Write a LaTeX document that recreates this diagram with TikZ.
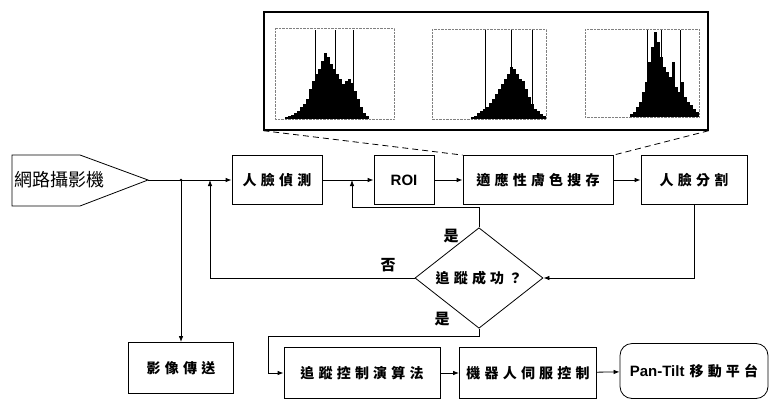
\documentclass[tikz,border=0pt]{standalone}
\usepackage{fontspec}
\usepackage{tikz}
\usetikzlibrary{arrows.meta,shapes.geometric}
\setsansfont{Liberation Sans}
\newfontfamily\cjk{Noto Sans CJK TC}
\newfontfamily\cjkwide[LetterSpace=30]{Noto Sans CJK TC}

\begin{document}
\begin{tikzpicture}[
  x=1pt, y=-1pt,
  box/.style={rectangle, draw, line width=0.8pt, minimum height=49pt, inner sep=0pt, font=\cjkwide\bfseries\fontsize{14}{16}\selectfont},
  decision/.style={diamond, draw, line width=0.8pt, minimum width=128pt, minimum height=70pt, inner sep=0pt, font=\cjkwide\bfseries\fontsize{14}{16}\selectfont},
  arrow/.style={-{Latex[length=6pt,width=4.5pt]}, line width=0.8pt},
  tag/.style={font=\cjk\bfseries\fontsize{15}{17}\selectfont, inner sep=0pt},
  guide/.style={dash pattern=on 6pt off 4pt, line width=0.8pt},
  bar/.style={fill=black}
]
\useasboundingbox (0,0) rectangle (771,399);

% Camera
\node[font=\cjk\fontsize{18}{20}\selectfont, anchor=west, inner sep=0pt] (cam) at (14,180) {網路攝影機};
\draw[line width=0.8pt] (12,155) -- (80,155) -- (148,180) coordinate (camtip) -- (80,206) -- (12,206) -- cycle;

% Top row
\node[box, minimum width=90pt] (detect) at (277,180) {人臉偵測};
\node[box, minimum width=60pt, font=\sffamily\bfseries\fontsize{15}{17}\selectfont] (roi) at (404,180) {ROI};
\node[box, minimum width=150pt] (skin) at (538,180) {適應性膚色搜存};
\node[box, minimum width=106pt] (segment) at (694,180) {人臉分割};

% Decision
\node[decision] (track) at (479,278) {追蹤成功？};

% Bottom row
\node[box, minimum width=105pt, minimum height=51pt] (send) at (181,368) {影像傳送};
\node[box, minimum width=156pt, minimum height=51pt] (control) at (362,373) {追蹤控制演算法};
\node[box, minimum width=137pt, minimum height=51pt] (servo) at (528,373) {機器人伺服控制};
\node[box, minimum width=148pt, minimum height=55pt, rounded corners=12pt, font=\sffamily\bfseries\fontsize{15}{17}\selectfont] (pantilt) at (694,371) {Pan-Tilt\hspace{5pt}{\cjkwide\fontsize{14}{16}\selectfont 移動平台}};

% Histogram panel
\node[draw, line width=1.4pt, minimum width=444pt, minimum height=118pt, inner sep=0pt] (hist) at (486,71) {};
\draw[gray, densely dotted, line width=0.4pt] (275,28) rectangle (394,119);
\draw[gray, densely dotted, line width=0.4pt] (432,29) rectangle (546,119);
\draw[gray, densely dotted, line width=0.4pt] (585,29) rectangle (699,117);
\foreach \h [count=\i] in {2,3,4,6,8,12,15,20,30,38,45,50,58,66,62,55,50,45,40,35,38,40,36,28,20,12,6,3}
  \fill[bar] (282+3*\i,119) rectangle ++(3,-\h);
\foreach \h [count=\i] in {2,3,6,8,10,12,16,20,25,30,35,40,45,52,50,45,40,38,30,22,15,10,8,5,3}
  \fill[bar] (468+3*\i,119) rectangle ++(3,-\h);
\foreach \h [count=\i] in {3,5,10,15,25,35,55,70,85,75,60,50,45,40,55,30,25,35,20,15,12,8,5}
  \fill[bar] (627+3*\i,117) rectangle ++(2.5,-\h);
\foreach \x/\b in {315/119, 335/119, 353/119, 485/119, 511/119, 532/119, 647/117, 661/117, 680/117}
  \draw[line width=0.9pt] (\x,30) -- (\x,\b);

% Dashed guides
\draw[guide] (hist.south west) -- (skin.north west);
\draw[guide] (hist.south east) -- (skin.north east);

% Connectors
\coordinate (split) at (181,180);
\coordinate (nojoin) at (210,180);
\coordinate (yesjoin) at (352,180);
\coordinate (bend) at (268,336);
\draw[arrow] (camtip) -- (detect.west);
\fill (split) circle (1.3pt);
\draw[arrow] (split) -- (send.north);
\draw[arrow] (detect) -- (roi);
\draw[arrow] (roi) -- (skin);
\draw[arrow] (skin) -- (segment);
\draw[arrow] (segment.south) |- (track.east);
\draw[arrow] (track.west) -| (nojoin);
\draw[arrow] (track.north) -- ++(0,-20) -| (yesjoin);
\draw[arrow] (track.south) |- (bend) |- (control.west);
\draw[arrow] (control) -- (servo);
\draw[arrow] (servo) -- (pantilt);

% Labels
\node[tag] (yesup) at (451,236) {是};
\node[tag] (no) at (388,265) {否};
\node[tag] (yesdown) at (442,319) {是};

\end{tikzpicture}
\end{document}
